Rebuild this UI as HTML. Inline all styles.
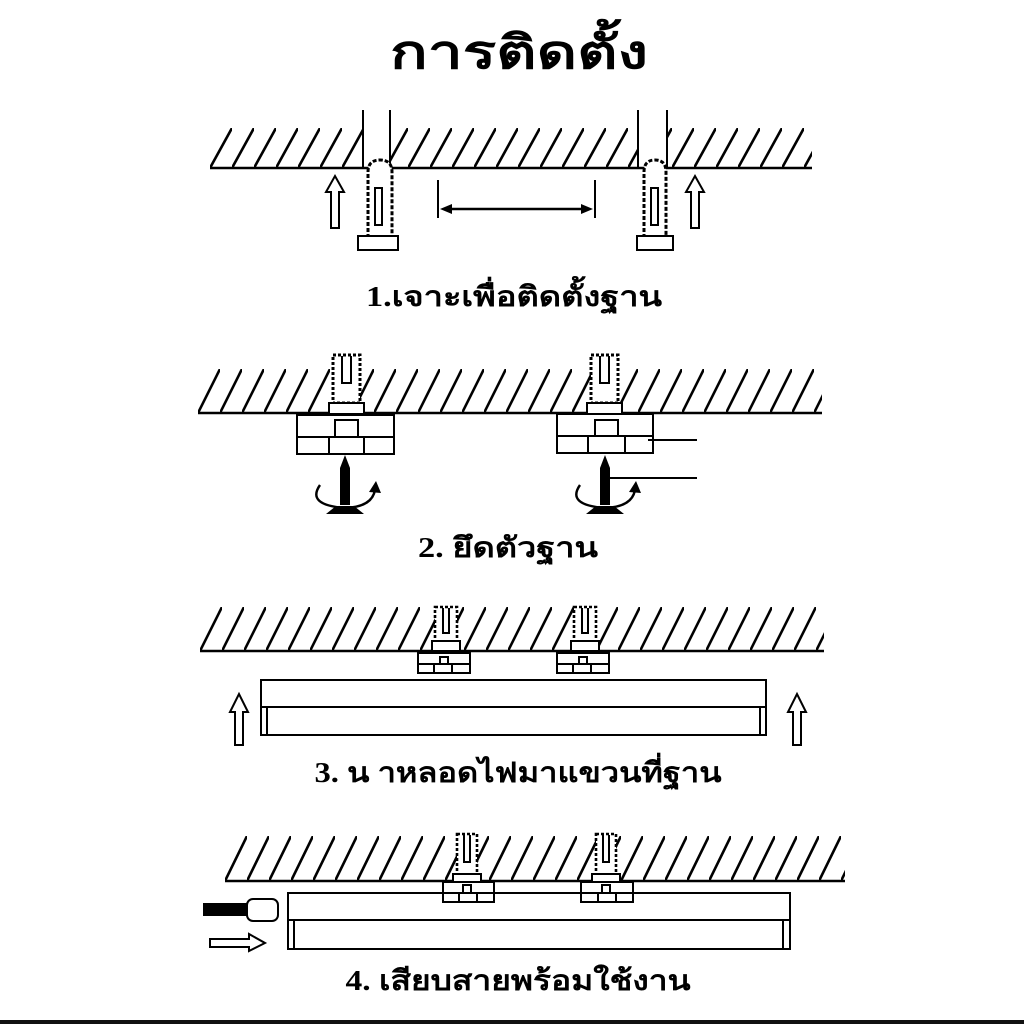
<!DOCTYPE html>
<html><head><meta charset="utf-8"><style>
html,body{margin:0;padding:0;background:#fff;width:1024px;height:1024px;overflow:hidden}
text{font-family:"Liberation Serif","Noto Serif CJK SC","DejaVu Sans",serif;font-weight:bold;fill:#000}
</style></head><body>
<svg width="1024" height="1024" viewBox="0 0 1024 1024" xmlns="http://www.w3.org/2000/svg">
<defs>
<pattern id="h1" patternUnits="userSpaceOnUse" width="22" height="40" x="210" y="128"><line x1="0" y1="40" x2="22" y2="0" stroke="#000" stroke-width="2.6"/></pattern>
<pattern id="h2" patternUnits="userSpaceOnUse" width="22" height="44" x="198" y="369"><line x1="0" y1="44" x2="22" y2="0" stroke="#000" stroke-width="2.6"/></pattern>
<pattern id="h3" patternUnits="userSpaceOnUse" width="22" height="44" x="200" y="607"><line x1="0" y1="44" x2="22" y2="0" stroke="#000" stroke-width="2.6"/></pattern>
<pattern id="h4" patternUnits="userSpaceOnUse" width="22" height="45" x="225" y="836"><line x1="0" y1="45" x2="22" y2="0" stroke="#000" stroke-width="2.6"/></pattern>
</defs>
<rect width="1024" height="1024" fill="#fff"/>
<text x="519" y="68" font-size="46" text-anchor="middle" textLength="258" lengthAdjust="spacingAndGlyphs">การติดตั้ง</text>

<!-- Section 1 -->
<rect x="210" y="128" width="602" height="40" fill="url(#h1)"/>
<rect x="363" y="110" width="27" height="58" fill="#fff"/>
<rect x="638" y="110" width="29" height="58" fill="#fff"/>
<g stroke="#000" stroke-width="2" fill="none">
<line x1="210" y1="168" x2="812" y2="168" stroke-width="2.5"/>
<line x1="363" y1="110" x2="363" y2="168"/><line x1="390" y1="110" x2="390" y2="168"/>
<line x1="638" y1="110" x2="638" y2="168"/><line x1="667" y1="110" x2="667" y2="168"/>
<path d="M368 238 V172 Q368 160 380 160 Q392 160 392 172 V238" fill="#fff" stroke-dasharray="4 2" stroke-width="3"/>
<rect x="375" y="188" width="7" height="37"/>
<rect x="358" y="236" width="40" height="14" fill="#fff"/>
<path d="M644 238 V172 Q644 160 655 160 Q666 160 666 172 V238" fill="#fff" stroke-dasharray="4 2" stroke-width="3"/>
<rect x="651" y="188" width="7" height="37"/>
<rect x="637" y="236" width="36" height="14" fill="#fff"/>
<path d="M331 228 V192 H326 L335 176 L344 192 H339 V228 Z"/>
<path d="M691 228 V192 H686 L695 176 L704 192 H699 V228 Z"/>
<line x1="438" y1="180" x2="438" y2="218"/><line x1="595" y1="180" x2="595" y2="218"/>
<line x1="446" y1="209" x2="588" y2="209" stroke-width="2.5"/>
</g>
<path d="M440 209 L452 204 L452 214 Z M593 209 L581 204 L581 214 Z" fill="#000"/>
<text x="514" y="306" font-size="28" text-anchor="middle" textLength="296" lengthAdjust="spacingAndGlyphs">1.เจาะเพื่อติดตั้งฐาน</text>

<!-- Section 2 -->
<rect x="198" y="369" width="624" height="44" fill="url(#h2)"/>
<g stroke="#000" stroke-width="2" fill="#fff">
<line x1="198" y1="413" x2="822" y2="413" stroke-width="2.5"/>
<rect x="333" y="355" width="27" height="48" stroke-dasharray="3 2" stroke-width="3"/>
<path d="M342 356 V383 H351 V356" fill="none"/>
<rect x="329" y="403" width="35" height="11"/>
<rect x="297" y="415" width="97" height="39"/>
<rect x="335" y="420" width="23" height="17"/>
<path d="M297 437 H394 M329 437 V454 M364 437 V454" fill="none"/>
<rect x="591" y="355" width="27" height="48" stroke-dasharray="3 2" stroke-width="3"/>
<path d="M600 356 V383 H609 V356" fill="none"/>
<rect x="587" y="403" width="35" height="11"/>
<rect x="557" y="414" width="96" height="39"/>
<rect x="595" y="420" width="23" height="16"/>
<path d="M557 436 H653 M588 436 V453 M625 436 V453" fill="none"/>
<path d="M648 440 H697 M610 478 H697" fill="none"/>
<path d="M320 485 Q306 505 345 508 Q372 507 375 490" fill="none" stroke-width="2.4"/>
<path d="M580 485 Q566 505 605 508 Q632 507 635 490" fill="none" stroke-width="2.4"/>
</g>
<g fill="#000">
<path d="M345 455 L350 468 V505 H340 V468 Z"/>
<path d="M326 514 L336 506 H354 L364 514 Z"/>
<path d="M369 492 L376 481 L381 493 Z"/>
<path d="M605 455 L610 468 V505 H600 V468 Z"/>
<path d="M586 514 L596 506 H614 L624 514 Z"/>
<path d="M629 492 L636 481 L641 493 Z"/>
</g>
<text x="508" y="557" font-size="28" text-anchor="middle" textLength="180" lengthAdjust="spacingAndGlyphs">2. ยึดตัวฐาน</text>

<!-- Section 3 -->
<rect x="200" y="607" width="624" height="44" fill="url(#h3)"/>
<g stroke="#000" stroke-width="2" fill="#fff">
<line x1="200" y1="651" x2="824" y2="651" stroke-width="2.5"/>
<rect x="435" y="607" width="22" height="36" stroke-dasharray="3 2" stroke-width="2.6"/>
<path d="M443 608 V633 H449 V608" fill="none"/>
<rect x="432" y="641" width="28" height="10"/>
<rect x="418" y="653" width="52" height="20"/>
<rect x="440" y="657" width="8" height="7"/>
<path d="M418 664 H470 M434 664 V673 M452 664 V673" fill="none"/>
<rect x="574" y="607" width="22" height="36" stroke-dasharray="3 2" stroke-width="2.6"/>
<path d="M582 608 V633 H588 V608" fill="none"/>
<rect x="571" y="641" width="28" height="10"/>
<rect x="557" y="653" width="52" height="20"/>
<rect x="579" y="657" width="8" height="7"/>
<path d="M557 664 H609 M573 664 V673 M591 664 V673" fill="none"/>
<rect x="261" y="680" width="505" height="55"/>
<path d="M261 707 H766 M267 707 V735 M760 707 V735" fill="none"/>
<path d="M235 745 V712 H230 L239 694 L248 712 H243 V745 Z"/>
<path d="M793 745 V712 H788 L797 694 L806 712 H801 V745 Z"/>
</g>
<text x="518" y="782" font-size="28" text-anchor="middle" textLength="407" lengthAdjust="spacingAndGlyphs">3. น าหลอดไฟมาแขวนที่ฐาน</text>

<!-- Section 4 -->
<rect x="225" y="836" width="620" height="45" fill="url(#h4)"/>
<g stroke="#000" stroke-width="2" fill="#fff">
<line x1="225" y1="881" x2="845" y2="881" stroke-width="2.5"/>
<rect x="288" y="893" width="502" height="56"/>
<path d="M288 920 H790 M294 920 V949 M783 920 V949" fill="none"/>
<rect x="457" y="834" width="20" height="41" stroke-dasharray="3 2" stroke-width="2.6"/>
<path d="M464 835 V862 H470 V835" fill="none"/>
<rect x="453" y="874" width="28" height="8"/>
<rect x="443" y="882" width="51" height="20"/>
<rect x="463" y="885" width="8" height="8"/>
<path d="M443 893 H494 M459 893 V902 M477 893 V902" fill="none"/>
<rect x="596" y="834" width="20" height="41" stroke-dasharray="3 2" stroke-width="2.6"/>
<path d="M603 835 V862 H609 V835" fill="none"/>
<rect x="592" y="874" width="28" height="8"/>
<rect x="581" y="882" width="52" height="20"/>
<rect x="602" y="885" width="8" height="8"/>
<path d="M581 893 H633 M598 893 V902 M616 893 V902" fill="none"/>
<rect x="247" y="899" width="31" height="22" rx="6"/>
<path d="M210 939 H249 V934 L265 943 L249 951 V947 H210 Z"/>
</g>
<rect x="203" y="903" width="44" height="13" fill="#000"/>
<text x="518" y="990" font-size="28" text-anchor="middle" textLength="345" lengthAdjust="spacingAndGlyphs">4. เสียบสายพร้อมใช้งาน</text>

<rect x="0" y="1020" width="1024" height="4" fill="#111"/>
</svg>
</body></html>
